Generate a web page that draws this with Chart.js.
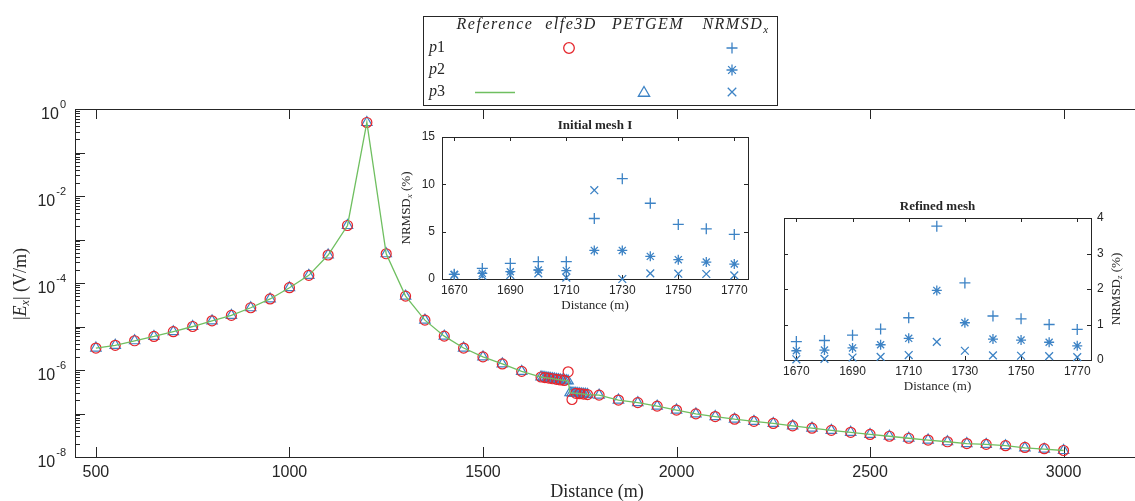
<!DOCTYPE html>
<html>
<head>
<meta charset="utf-8">
<script src="https://cdn.jsdelivr.net/npm/chart.js@4.4.0/dist/chart.umd.min.js"></script>
<style>
  html, body { margin: 0; padding: 0; background: #fff; overflow: hidden; }
  body { width: 1135px; height: 501px; position: relative; }
  canvas { position: absolute; }
</style>
</head>
<body>
<canvas id="main" width="1150" height="501" style="left:0;top:0"></canvas>
<canvas id="inset1" width="372" height="200" style="left:390px;top:113px"></canvas>
<canvas id="inset2" width="360" height="207" style="left:775px;top:193px"></canvas>
<script>
// main plot: |Ex| along the profile (reference + PETGEM share the fine sampling)
const distance = [
  500, 550, 600, 650, 700, 750, 800, 850, 900, 950, 1000, 1050, 1100, 1150, 1200,
  1250, 1300, 1350, 1400, 1450, 1500, 1550, 1600, 1650,
  1655, 1660, 1665, 1670, 1675, 1680, 1685, 1690, 1695, 1700, 1705, 1710, 1715, 1720,
  1725, 1730, 1735, 1740, 1745, 1750, 1755, 1760, 1765, 1770,
  1800, 1850, 1900, 1950, 2000, 2050, 2100, 2150, 2200, 2250, 2300, 2350, 2400,
  2450, 2500, 2550, 2600, 2650, 2700, 2750, 2800, 2850, 2900, 2950, 3000
]
const refE = [
  3.2e-6, 3.7e-6, 4.7e-6, 5.9e-6, 7.6e-6, 1.0e-5, 1.35e-5, 1.8e-5, 2.7e-5, 4.3e-5, 7.8e-5, 1.5e-4, 4.4e-4, 2.1e-3, 0.49,
  4.7e-4, 5.0e-5, 1.4e-5, 6.0e-6, 3.2e-6, 2.0e-6, 1.38e-6, 9.3e-7, 6.9e-7,
  6.8e-7, 6.7e-7, 6.6e-7, 6.5e-7, 6.4e-7, 6.3e-7, 6.2e-7, 6.1e-7, 6.0e-7, 5.9e-7, 5.8e-7, 5.75e-7, 5.7e-7, 5.6e-7,
  3.0e-7, 2.97e-7, 2.94e-7, 2.91e-7, 2.88e-7, 2.85e-7, 2.82e-7, 2.79e-7, 2.76e-7, 2.73e-7,
  2.65e-7, 2.04e-7, 1.78e-7, 1.48e-7, 1.2e-7, 9.8e-8, 8.5e-8, 7.4e-8, 6.6e-8, 5.9e-8, 5.2e-8, 4.6e-8, 4.1e-8,
  3.7e-8, 3.3e-8, 3.0e-8, 2.7e-8, 2.45e-8, 2.24e-8, 2.04e-8, 1.95e-8, 1.82e-8, 1.62e-8, 1.51e-8, 1.41e-8
]
const petgemE = [
  3.2e-6, 3.7e-6, 4.7e-6, 5.9e-6, 7.6e-6, 1.0e-5, 1.35e-5, 1.8e-5, 2.7e-5, 4.3e-5, 7.8e-5, 1.5e-4, 4.4e-4, 2.1e-3, 0.49,
  4.7e-4, 5.0e-5, 1.4e-5, 6.0e-6, 3.2e-6, 2.0e-6, 1.38e-6, 9.3e-7, 6.9e-7,
  6.8e-7, 6.7e-7, 6.6e-7, 6.5e-7, 6.4e-7, 6.3e-7, 6.2e-7, 6.1e-7, 6.0e-7, 5.9e-7, 5.8e-7, 5.75e-7, 5.7e-7, 5.6e-7,
  3.0e-7, 2.97e-7, 2.94e-7, 2.91e-7, 2.88e-7, 2.85e-7, 2.82e-7, 2.79e-7, 2.76e-7, 2.73e-7,
  2.65e-7, 2.04e-7, 1.78e-7, 1.48e-7, 1.2e-7, 9.8e-8, 8.5e-8, 7.4e-8, 6.6e-8, 5.9e-8, 5.2e-8, 4.6e-8, 4.1e-8,
  3.7e-8, 3.3e-8, 3.0e-8, 2.7e-8, 2.45e-8, 2.24e-8, 2.04e-8, 1.95e-8, 1.82e-8, 1.62e-8, 1.51e-8, 1.41e-8
]
// elfe3D is sampled every 10 m near the boundary
const elfeDistance = [
  500, 550, 600, 650, 700, 750, 800, 850, 900, 950, 1000, 1050, 1100, 1150, 1200,
  1250, 1300, 1350, 1400, 1450, 1500, 1550, 1600, 1650,
  1660, 1670, 1680, 1690, 1700, 1710, 1720,
  1730, 1740, 1750, 1760, 1770,
  1800, 1850, 1900, 1950, 2000, 2050, 2100, 2150, 2200, 2250, 2300, 2350, 2400,
  2450, 2500, 2550, 2600, 2650, 2700, 2750, 2800, 2850, 2900, 2950, 3000
]
const elfeE = [
  3.2e-6, 3.7e-6, 4.7e-6, 5.9e-6, 7.6e-6, 1.0e-5, 1.35e-5, 1.8e-5, 2.7e-5, 4.3e-5, 7.8e-5, 1.5e-4, 4.4e-4, 2.1e-3, 0.49,
  4.7e-4, 5.0e-5, 1.4e-5, 6.0e-6, 3.2e-6, 2.0e-6, 1.38e-6, 9.3e-7, 6.9e-7,
  6.7e-7, 6.5e-7, 6.3e-7, 6.1e-7, 5.9e-7, 5.75e-7, 9.1e-7,
  2.1e-7, 2.91e-7, 2.85e-7, 2.79e-7, 2.73e-7,
  2.65e-7, 2.04e-7, 1.78e-7, 1.48e-7, 1.2e-7, 9.8e-8, 8.5e-8, 7.4e-8, 6.6e-8, 5.9e-8, 5.2e-8, 4.6e-8, 4.1e-8,
  3.7e-8, 3.3e-8, 3.0e-8, 2.7e-8, 2.45e-8, 2.24e-8, 2.04e-8, 1.95e-8, 1.82e-8, 1.66e-8, 1.55e-8, 1.41e-8
]
const xTicks = [500, 1000, 1500, 2000, 2500, 3000]
const yExponents = [0, -2, -4, -6, -8]

// insets: NRMSD (%) at the receivers near the boundary
const insetDistance = [1670, 1680, 1690, 1700, 1710, 1720, 1730, 1740, 1750, 1760, 1770]
const initialP1 = [0.49, 1.12, 1.65, 1.83, 1.83, 6.39, 10.6, 8.0, 5.76, 5.3, 4.71]
const initialP2 = [0.49, 0.6, 0.77, 0.95, 0.88, 3.02, 3.02, 2.39, 2.04, 1.79, 1.58]
const initialP3 = [0.42, 0.35, 0.42, 0.6, 0.14, 9.38, 0.0, 0.6, 0.56, 0.53, 0.39]
const refinedP1 = [0.52, 0.55, 0.70, 0.87, 1.19, 3.77, 2.17, 1.24, 1.16, 1.0, 0.86]
const refinedP2 = [0.26, 0.28, 0.34, 0.43, 0.61, 1.96, 1.05, 0.59, 0.56, 0.50, 0.40]
const refinedP3 = [0.02, 0.03, 0.07, 0.09, 0.14, 0.51, 0.26, 0.13, 0.12, 0.11, 0.08]
const insetXTicks = [1670, 1690, 1710, 1730, 1750, 1770]
const initialYTicks = [0, 5, 10, 15]
const refinedYTicks = [0, 1, 2, 3, 4]

const INK = '#262626'
const RED = '#e5262c'
const BLUE = '#3d83c5'
const GREEN = '#6fbf60'
const SANS = '"Liberation Sans", Arial, sans-serif'
const SERIF = '"Liberation Serif", "DejaVu Serif", serif'

const pts = (xs, ys) => xs.map((x, i) => ({ x, y: ys[i] }))

// parts: [text, font, dy]
function richText(ctx, parts, cx, cy) {
  let w = 0
  parts.forEach(p => { ctx.font = p[1]; w += ctx.measureText(p[0]).width })
  let x = cx - w / 2
  ctx.textAlign = 'left'
  ctx.textBaseline = 'middle'
  parts.forEach(p => {
    ctx.font = p[1]
    ctx.fillText(p[0], x, cy + (p[2] || 0))
    x += ctx.measureText(p[0]).width
  })
}

function marker(ctx, style, r, x, y, color) {
  ctx.save()
  ctx.strokeStyle = color
  ctx.fillStyle = 'rgba(0,0,0,0)'
  ctx.lineWidth = 1.3
  Chart.helpers.drawPoint(ctx, { pointStyle: style, radius: r, borderWidth: 1.3, rotation: 0 }, x, y)
  ctx.restore()
}

const mainAxes = {
  id: 'mainAxes',
  beforeDraw(chart) {
    const ctx = chart.ctx
    ctx.save()
    ctx.fillStyle = '#fff'
    ctx.fillRect(0, 0, chart.width, chart.height)
    ctx.restore()
  },
  beforeDatasetsDraw(chart) {
    const { ctx, chartArea: a, scales: { x, y } } = chart
    ctx.save()
    ctx.strokeStyle = INK
    ctx.lineWidth = 1
    ctx.strokeRect(a.left + 0.5, a.top + 0.5, a.right - a.left, a.bottom - a.top)
    ctx.beginPath()
    for (let k = -8; k <= 0; k++) {
      const py = Math.round(y.getPixelForValue(Math.pow(10, k))) + 0.5
      ctx.moveTo(a.left, py); ctx.lineTo(a.left + 10, py)
      if (k < 0) {
        for (let m = 2; m <= 9; m++) {
          const my = Math.round(y.getPixelForValue(m * Math.pow(10, k))) + 0.5
          ctx.moveTo(a.left, my); ctx.lineTo(a.left + 5, my)
        }
      }
    }
    xTicks.forEach(v => {
      const px = Math.round(x.getPixelForValue(v)) + 0.5
      ctx.moveTo(px, a.bottom); ctx.lineTo(px, a.bottom - 10)
      ctx.moveTo(px, a.top); ctx.lineTo(px, a.top + 10)
    })
    ctx.stroke()

    ctx.fillStyle = INK
    ctx.font = '16px ' + SANS
    ctx.textAlign = 'center'
    ctx.textBaseline = 'middle'
    xTicks.forEach(v => ctx.fillText(String(v), x.getPixelForValue(v), a.bottom + 16))

    yExponents.forEach(k => {
      const py = y.getPixelForValue(Math.pow(10, k))
      const exp = k === 0 ? '0' : '-' + Math.abs(k)
      ctx.font = '11px ' + SANS
      ctx.textBaseline = 'alphabetic'
      ctx.textAlign = 'right'
      ctx.fillText(exp, 66, py - 1)
      const ew = ctx.measureText(exp).width
      ctx.font = '16px ' + SANS
      ctx.fillText('10', 66 - ew - 1, py + 10)
    })

    ctx.fillStyle = INK
    richText(ctx, [['Distance (m)', '18px ' + SERIF]], 597, 492)
    ctx.save()
    ctx.translate(21, 284)
    ctx.rotate(-Math.PI / 2)
    richText(ctx, [
      ['|', '18px ' + SERIF],
      ['E', 'italic 18px ' + SERIF],
      ['x', 'italic 12px ' + SERIF, 5],
      ['| (V/m)', '18px ' + SERIF]
    ], 0, 0)
    ctx.restore()
    ctx.restore()
  },
  afterDraw(chart) {
    const ctx = chart.ctx
    ctx.save()
    ctx.fillStyle = '#fff'
    ctx.fillRect(423, 16, 354, 89)
    ctx.strokeStyle = INK
    ctx.lineWidth = 1
    ctx.strokeRect(423.5, 16.5, 354, 89)
    ctx.fillStyle = INK
    if ('letterSpacing' in ctx) ctx.letterSpacing = '1.5px'
    const it = 'italic 16px ' + SERIF
    richText(ctx, [['Reference', it]], 495, 25)
    richText(ctx, [['elfe3D', it]], 571, 25)
    richText(ctx, [['PETGEM', it]], 648, 25)
    richText(ctx, [['NRMSD', it], ['x', 'italic 11px ' + SERIF, 5]], 736, 25)
    if ('letterSpacing' in ctx) ctx.letterSpacing = '0px'
    const rows = [['1', 48], ['2', 70], ['3', 92]]
    rows.forEach(r => richText(ctx, [['p', it], [r[0], '16px ' + SERIF]], 437, r[1]))
    marker(ctx, 'circle', 5.3, 569, 48, RED)
    marker(ctx, 'cross', 5.5, 732, 48, BLUE)
    marker(ctx, 'star', 5.5, 732, 70, BLUE)
    marker(ctx, 'crossRot', 6, 732, 92, BLUE)
    marker(ctx, 'triangle', 6.5, 644, 93, BLUE)
    ctx.strokeStyle = GREEN
    ctx.lineWidth = 1.5
    ctx.beginPath(); ctx.moveTo(475, 92.5); ctx.lineTo(515, 92.5); ctx.stroke()
    ctx.restore()
  }
}

new Chart('main', {
  type: 'scatter',
  data: {
    datasets: [
      { label: 'Reference', data: pts(distance, refE), showLine: true, borderColor: GREEN, borderWidth: 1.3, pointRadius: 0, clip: false },
      { label: 'elfe3D', data: pts(elfeDistance, elfeE), showLine: false, pointStyle: 'circle', pointRadius: 5, borderColor: RED, backgroundColor: 'rgba(0,0,0,0)', borderWidth: 1.2, clip: false },
      { label: 'PETGEM', data: pts(distance, petgemE), showLine: false, pointStyle: 'triangle', pointRadius: 6, borderColor: BLUE, backgroundColor: 'rgba(0,0,0,0)', borderWidth: 1.2, clip: false }
    ]
  },
  options: {
    responsive: false,
    animation: false,
    events: [],
    layout: { padding: { left: 75, top: 109, right: 9, bottom: 44 } },
    scales: {
      x: { type: 'linear', display: false, min: 446, max: 3200 },
      y: { type: 'logarithmic', display: false, min: 1e-8, max: 1 }
    },
    plugins: { legend: { display: false }, tooltip: { enabled: false } }
  },
  plugins: [mainAxes]
})

function insetFrame(cfg) {
  return {
    id: 'insetFrame',
    beforeDraw(chart) {
      const { ctx, chartArea: a } = chart
      ctx.save()
      ctx.fillStyle = '#fff'
      ctx.fillRect(a.left, a.top, a.right - a.left, a.bottom - a.top)
      ctx.restore()
    },
    beforeDatasetsDraw(chart) {
      const { ctx, chartArea: a, scales: { x, y } } = chart
      ctx.save()
      ctx.strokeStyle = INK
      ctx.lineWidth = 1
      ctx.strokeRect(Math.round(a.left) + 0.5, Math.round(a.top) + 0.5, Math.round(a.right - a.left), Math.round(a.bottom - a.top))
      ctx.beginPath()
      insetXTicks.forEach(v => {
        const px = Math.round(x.getPixelForValue(v)) + 0.5
        ctx.moveTo(px, a.bottom); ctx.lineTo(px, a.bottom - 4)
        ctx.moveTo(px, a.top); ctx.lineTo(px, a.top + 4)
      })
      cfg.yTicks.forEach(v => {
        const py = Math.round(y.getPixelForValue(v)) + 0.5
        ctx.moveTo(a.left, py); ctx.lineTo(a.left + 4, py)
        ctx.moveTo(a.right, py); ctx.lineTo(a.right - 4, py)
      })
      ctx.stroke()

      ctx.fillStyle = INK
      ctx.font = '12px ' + SANS
      ctx.textBaseline = 'middle'
      ctx.textAlign = 'center'
      insetXTicks.forEach(v => ctx.fillText(String(v), x.getPixelForValue(v), a.bottom + 12))
      ctx.textAlign = cfg.right ? 'left' : 'right'
      cfg.yTicks.forEach(v => ctx.fillText(String(v), cfg.right ? a.right + 6 : a.left - 7, y.getPixelForValue(v)))

      const cx = (a.left + a.right) / 2
      const cy = (a.top + a.bottom) / 2
      richText(ctx, [[cfg.title, 'bold 13px ' + SERIF]], cx, a.top - 11)
      richText(ctx, [['Distance (m)', '13px ' + SERIF]], cx, a.bottom + 27)
      ctx.save()
      ctx.translate(cfg.right ? a.right + 26 : a.left - 35, cy)
      ctx.rotate(-Math.PI / 2)
      richText(ctx, [
        ['NRMSD', '13px ' + SERIF],
        [cfg.sub, 'italic 9px ' + SERIF, 3],
        [' (%)', '13px ' + SERIF]
      ], 0, 0)
      ctx.restore()
      ctx.restore()
    }
  }
}

function insetSets(p1, p2, p3) {
  const base = { showLine: false, borderColor: BLUE, backgroundColor: 'rgba(0,0,0,0)', borderWidth: 1.3, clip: false }
  return [
    { ...base, label: 'p1', data: pts(insetDistance, p1), pointStyle: 'cross', pointRadius: 5.5 },
    { ...base, label: 'p2', data: pts(insetDistance, p2), pointStyle: 'star', pointRadius: 5 },
    { ...base, label: 'p3', data: pts(insetDistance, p3), pointStyle: 'crossRot', pointRadius: 5.5 }
  ]
}

function insetOptions(pad, ymax) {
  return {
    responsive: false,
    animation: false,
    events: [],
    layout: { padding: pad },
    scales: {
      x: { type: 'linear', display: false, min: 1665.6, max: 1774.9 },
      y: { type: 'linear', display: false, min: 0, max: ymax }
    },
    plugins: { legend: { display: false }, tooltip: { enabled: false } }
  }
}

new Chart('inset1', {
  type: 'scatter',
  data: { datasets: insetSets(initialP1, initialP2, initialP3) },
  options: insetOptions({ left: 52, top: 24, right: 14, bottom: 34 }, 15),
  plugins: [insetFrame({ title: 'Initial mesh I', yTicks: initialYTicks, sub: 'x', right: false })]
})

new Chart('inset2', {
  type: 'scatter',
  data: { datasets: insetSets(refinedP1, refinedP2, refinedP3) },
  options: insetOptions({ left: 9, top: 25, right: 44, bottom: 40 }, 4),
  plugins: [insetFrame({ title: 'Refined mesh', yTicks: refinedYTicks, sub: 'z', right: true })]
})
</script>
</body>
</html>
